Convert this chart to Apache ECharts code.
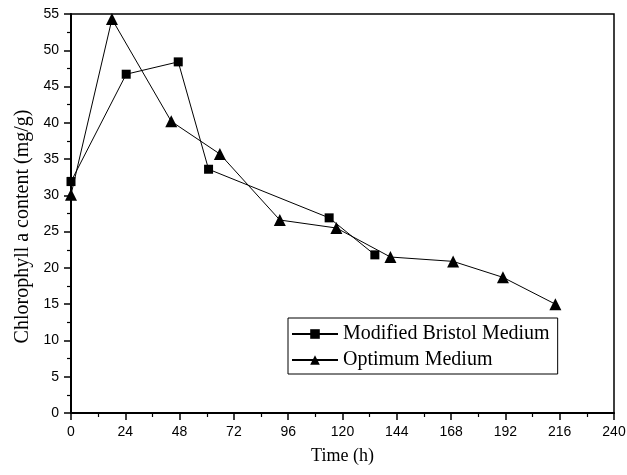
<!DOCTYPE html>
<html>
<head>
<meta charset="utf-8">
<script src="https://cdn.jsdelivr.net/npm/echarts@6/dist/echarts.min.js"></script>
<style>
  html, body { margin: 0; padding: 0; background: #fff; }
  #chart { width: 627px; height: 475px; }
</style>
</head>
<body>
<div id="chart"></div>
<script>
// Chlorophyll a content over time for two culture media
const bristolTime = [0, 24.4, 47.4, 60.8, 114.1, 134.3];
const bristolChl  = [31.9, 46.7, 48.4, 33.6, 26.9, 21.8];

const optimumTime = [0, 18.1, 44.3, 65.8, 92.3, 117.3, 141.2, 168.9, 190.9, 214.1];
const optimumChl  = [30.1, 54.3, 40.2, 35.7, 26.6, 25.5, 21.5, 20.9, 18.7, 15.0];

const seriesNames = ['Modified Bristol Medium', 'Optimum Medium'];
const xTicks = [0, 24, 48, 72, 96, 120, 144, 168, 192, 216, 240];
const yTicks = [0, 5, 10, 15, 20, 25, 30, 35, 40, 45, 50, 55];

const pairs = (xs, ys) => xs.map((x, i) => [x, ys[i]]);

const serif = '"Liberation Serif", "Times New Roman", serif';
const sans = '"Liberation Sans", Arial, sans-serif';

const chart = echarts.init(document.getElementById('chart'), null, { renderer: 'canvas' });

const axisCommon = {
  axisLine: { show: true, lineStyle: { color: '#000', width: 2 } },
  axisTick: { show: true, inside: false, length: 7, lineStyle: { color: '#000', width: 1.5 } },
  minorTick: { show: true, splitNumber: 2, length: 4, lineStyle: { color: '#000', width: 1.2 } },
  splitLine: { show: false },
  nameLocation: 'middle'
};

chart.setOption({
  animation: false,
  backgroundColor: '#fff',
  grid: {
    left: 71, right: 13, top: 14, bottom: 62,
    outerBoundsMode: 'none',
    containLabel: false,
    show: true, borderColor: '#000', borderWidth: 1.5, backgroundColor: 'transparent'
  },
  xAxis: Object.assign({}, axisCommon, {
    type: 'value',
    min: xTicks[0], max: xTicks[xTicks.length - 1], interval: 24,
    name: 'Time (h)', nameGap: 34,
    nameTextStyle: { color: '#000', fontFamily: serif, fontSize: 18 },
    axisLabel: { color: '#000', fontFamily: sans, fontSize: 14, margin: 12 }
  }),
  yAxis: Object.assign({}, axisCommon, {
    type: 'value',
    min: yTicks[0], max: yTicks[yTicks.length - 1], interval: 5,
    name: 'Chlorophyll a content (mg/g)', nameGap: 33,
    nameTextStyle: { color: '#000', fontFamily: serif, fontSize: 20, padding: [0, 26, 0, 0] },
    axisLabel: { color: '#000', fontFamily: sans, fontSize: 14, margin: 12 }
  }),
  legend: {
    orient: 'vertical',
    left: 288, top: 318,
    padding: [6, 8, 4, 3],
    itemGap: 6,
    itemWidth: 46,
    itemHeight: 12,
    borderColor: '#000',
    borderWidth: 1,
    backgroundColor: '#fff',
    textStyle: { color: '#000', fontFamily: serif, fontSize: 20 },
    data: seriesNames
  },
  series: [
    {
      name: seriesNames[0],
      type: 'line',
      data: pairs(bristolTime, bristolChl),
      symbol: 'rect',
      symbolSize: 9,
      itemStyle: { color: '#000' },
      lineStyle: { color: '#000', width: 1 }
    },
    {
      name: seriesNames[1],
      type: 'line',
      data: pairs(optimumTime, optimumChl),
      symbol: 'triangle',
      symbolSize: 12,
      itemStyle: { color: '#000' },
      lineStyle: { color: '#000', width: 1 }
    }
  ]
});
</script>
</body>
</html>
